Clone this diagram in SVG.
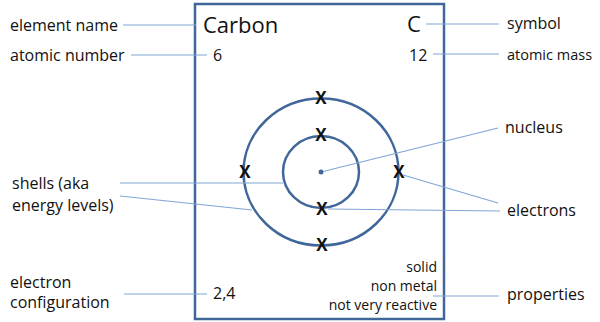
<svg xmlns="http://www.w3.org/2000/svg" width="600" height="322" viewBox="0 0 600 322">
<style>
text{font-family:"Open Sans","Liberation Sans",sans-serif;fill:#111;}
.lbl{font-size:16px;}
.big{font-size:22px;}
.num{font-size:16px;}
.prop{font-size:14px;text-anchor:end;}
.x{font-size:17px;font-weight:bold;text-anchor:middle;}
.ln{stroke:#7fa6d6;stroke-width:1.2;fill:none;}
.shell{stroke:#41679a;stroke-width:2.5;fill:none;}
</style>
<rect width="600" height="322" fill="#fff"/>
<g id="card"><rect x="195" y="4" width="249" height="315" fill="none" stroke="#41679a" stroke-width="2.5"/></g>
<g id="atom">
<ellipse class="shell" cx="321" cy="172" rx="77.5" ry="73.5"/>
<ellipse class="shell" cx="321" cy="172" rx="38" ry="36"/>
<circle cx="321" cy="172" r="2.5" fill="#41679a"/>
<text class="x" x="321" y="104">X</text>
<text class="x" x="321" y="141">X</text>
<text class="x" x="245" y="178">X</text>
<text class="x" x="399" y="178">X</text>
<text class="x" x="322" y="215">X</text>
<text class="x" x="322" y="251">X</text>
</g>
<g id="connectors">
<line class="ln" x1="123" y1="25" x2="196" y2="25"/>
<line class="ln" x1="131" y1="55" x2="207" y2="55"/>
<line class="ln" x1="426" y1="24" x2="499" y2="24"/>
<line class="ln" x1="433" y1="54" x2="499" y2="54"/>
<line class="ln" x1="323" y1="171.5" x2="498" y2="128"/>
<line class="ln" x1="120" y1="183" x2="283" y2="183"/>
<line class="ln" x1="120" y1="196" x2="252" y2="210"/>
<line class="ln" x1="403" y1="175" x2="498" y2="203"/>
<line class="ln" x1="328" y1="209" x2="500" y2="211"/>
<line class="ln" x1="124" y1="294" x2="207" y2="294"/>
<line class="ln" x1="433" y1="296" x2="499" y2="296"/>
</g>
<g id="card-text">
<text class="big" x="203" y="33">Carbon</text>
<text class="big" x="407" y="32">C</text>
<text class="num" x="213" y="61">6</text>
<text class="num" x="409" y="61">12</text>
<text class="num" x="213" y="299">2,4</text>
<text class="prop" x="437" y="272">solid</text>
<text class="prop" x="437" y="291">non metal</text>
<text class="prop" x="437" y="310">not very reactive</text>
</g>
<g id="labels">
<text class="lbl" x="10" y="31">element name</text>
<text class="lbl" x="10" y="61">atomic number</text>
<text class="lbl" x="507" y="29">symbol</text>
<text class="lbl" x="507" y="60" style="font-size:14.5px">atomic mass</text>
<text class="lbl" x="505" y="133">nucleus</text>
<text class="lbl" x="12" y="189">shells (aka</text>
<text class="lbl" x="12" y="211">energy levels)</text>
<text class="lbl" x="507" y="216">electrons</text>
<text class="lbl" x="10" y="288">electron</text>
<text class="lbl" x="10" y="308">configuration</text>
<text class="lbl" x="507" y="300">properties</text>
</g>
</svg>
